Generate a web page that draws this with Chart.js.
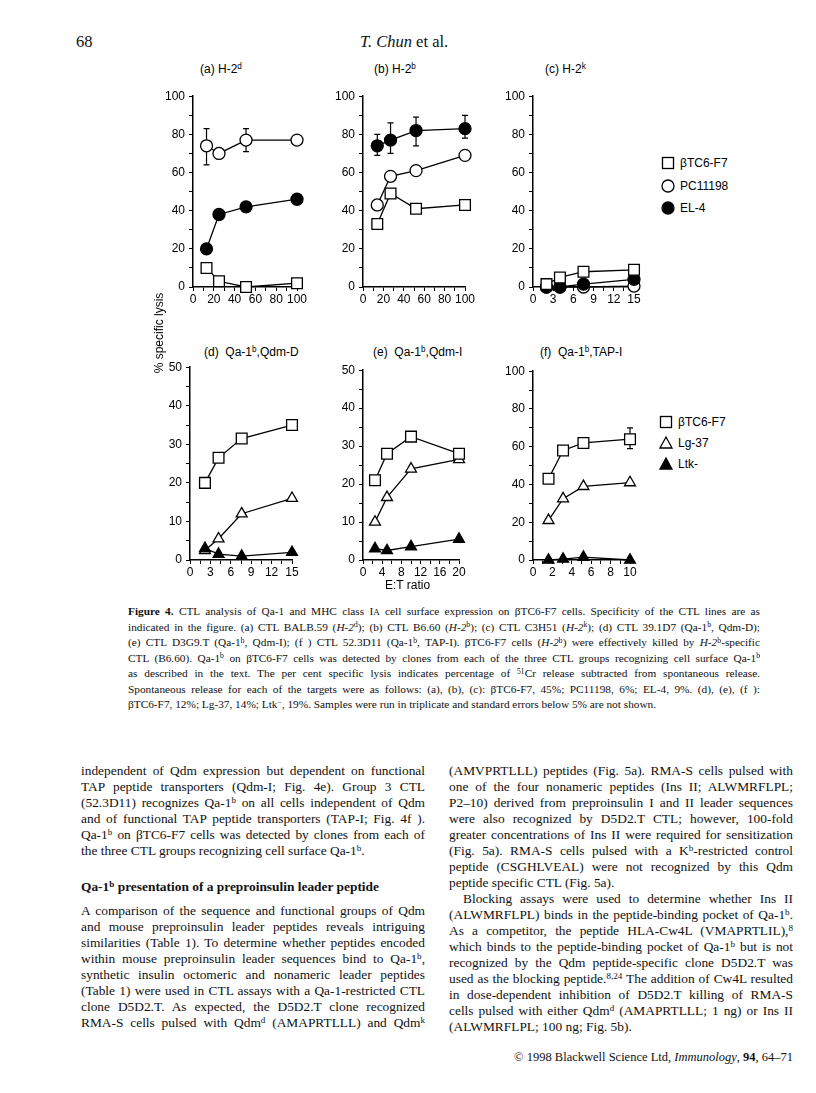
<!DOCTYPE html>
<html>
<head>
<meta charset="utf-8">
<script src="https://cdn.jsdelivr.net/npm/chart.js@4.4.0/dist/chart.umd.min.js"></script>
<style>
  body { margin: 0; background: #fff; }
  #page { position: relative; width: 816px; height: 1093px; overflow: hidden; background: #fff;
          font-family: "Liberation Serif", "Times New Roman", serif; color: #111; }
  canvas { position: absolute; }
  sup { font-size: 0.68em; vertical-align: 0; position: relative; top: -0.45em; line-height: 0; }
  .hdr { position: absolute; font-size: 16.5px; white-space: nowrap; }
  .ttl { position: absolute; font-family: "Liberation Sans", Arial, sans-serif; font-size: 12px; white-space: nowrap; color: #000; }
  .ylab { position: absolute; font-family: "Liberation Sans", Arial, sans-serif; font-size: 12px; white-space: nowrap;
          transform: rotate(-90deg); transform-origin: center; color: #000; }
  .lg { position: absolute; font-family: "Liberation Sans", Arial, sans-serif; font-size: 12px; white-space: nowrap; color: #000; }
  .lg svg { position: absolute; left: 0; top: 0; }
  .lg span { position: absolute; left: 20px; top: 0; line-height: 16px; }
  .blk { position: absolute; }
  .blk div { text-align: justify; text-align-last: justify; white-space: normal; overflow: hidden; }
  .blk div.end { text-align-last: left; }
  .cap { left: 128px; width: 632px; top: 604px; font-size: 11.3px; }
  .cap div { height: 15.5px; line-height: 15.5px; }
  .col { width: 344px; font-size: 13.4px; }
  .col div { height: 16px; line-height: 16px; }
  .ind { text-indent: 14px; }
  .foot { position: absolute; right: 23px; top: 1050px; font-size: 12.5px; white-space: nowrap; }
</style>
</head>
<body>
<div id="page">
  <div class="hdr" style="left:76px; top:32px;">68</div>
  <div class="hdr" style="left:360px; top:32px;"><i>T. Chun</i> et al.</div>

  <div class="ttl" style="left:200px; top:62px;">(a) H-2<sup>d</sup></div>
  <div class="ttl" style="left:374px; top:62px;">(b) H-2<sup>b</sup></div>
  <div class="ttl" style="left:545px; top:62px;">(c) H-2<sup>k</sup></div>
  <div class="ttl" style="left:204px; top:345px;">(d)&nbsp; Qa-1<sup>b</sup>,Qdm-D</div>
  <div class="ttl" style="left:373px; top:345px;">(e)&nbsp; Qa-1<sup>b</sup>,Qdm-I</div>
  <div class="ttl" style="left:540px; top:345px;">(f)&nbsp; Qa-1<sup>b</sup>,TAP-I</div>

  <canvas id="chartA" width="152" height="224" style="left:159px; top:85px;"></canvas>
  <canvas id="chartB" width="150" height="224" style="left:329px; top:85px;"></canvas>
  <canvas id="chartC" width="149" height="224" style="left:499px; top:85px;"></canvas>
  <canvas id="chartD" width="150" height="226" style="left:156px; top:356px;"></canvas>
  <canvas id="chartE" width="144" height="223" style="left:329px; top:359px;"></canvas>
  <canvas id="chartF" width="145" height="222" style="left:499px; top:360px;"></canvas>

  <div class="ylab" style="left:109px; top:326px; width:100px; text-align:center;">% specific lysis</div>
  <div class="ttl" style="left:385px; top:578px;">E:T ratio</div>

  <!-- legends -->
  <div class="lg" style="left:660px; top:155px;">
    <svg width="16" height="16"><rect x="2.5" y="2.5" width="11" height="11" fill="#fff" stroke="#000" stroke-width="1.3"/></svg>
    <span>&beta;TC6-F7</span></div>
  <div class="lg" style="left:660px; top:178px;">
    <svg width="16" height="16"><circle cx="8" cy="8" r="6" fill="#fff" stroke="#000" stroke-width="1.3"/></svg>
    <span>PC11198</span></div>
  <div class="lg" style="left:660px; top:200px;">
    <svg width="16" height="16"><circle cx="8" cy="8" r="6" fill="#000" stroke="#000" stroke-width="1.3"/></svg>
    <span>EL-4</span></div>

  <div class="lg" style="left:658px; top:414px;">
    <svg width="16" height="16"><rect x="2.5" y="2.5" width="11" height="11" fill="#fff" stroke="#000" stroke-width="1.3"/></svg>
    <span>&beta;TC6-F7</span></div>
  <div class="lg" style="left:658px; top:435px;">
    <svg width="16" height="16"><polygon points="8,2 14,13 2,13" fill="#fff" stroke="#000" stroke-width="1.3"/></svg>
    <span>Lg-37</span></div>
  <div class="lg" style="left:658px; top:456px;">
    <svg width="16" height="16"><polygon points="8,2 14,13 2,13" fill="#000" stroke="#000" stroke-width="1.3"/></svg>
    <span>Ltk-</span></div>

  <!-- caption -->
  <div class="blk cap">
    <div><b>Figure 4.</b> CTL analysis of Qa-1 and MHC class I<span style="font-size:0.8em">A</span> cell surface expression on &beta;TC6-F7 cells. Specificity of the CTL lines are as</div>
    <div>indicated in the figure. (a) CTL BALB.59 (<i>H-2</i><sup>d</sup>); (b) CTL B6.60 (<i>H-2</i><sup>b</sup>); (c) CTL C3H51 (<i>H-2</i><sup>k</sup>); (d) CTL 39.1D7 (Qa-1<sup>b</sup>, Qdm-D);</div>
    <div>(e) CTL D3G9.T (Qa-1<sup>b</sup>, Qdm-I); (f ) CTL 52.3D11 (Qa-1<sup>b</sup>, TAP-I). &beta;TC6-F7 cells (<i>H-2</i><sup>b</sup>) were effectively killed by <i>H-2</i><sup>b</sup>-specific</div>
    <div>CTL (B6.60). Qa-1<sup>b</sup> on &beta;TC6-F7 cells was detected by clones from each of the three CTL groups recognizing cell surface Qa-1<sup>b</sup></div>
    <div>as described in the text. The per cent specific lysis indicates percentage of <sup>51</sup>Cr release subtracted from spontaneous release.</div>
    <div>Spontaneous release for each of the targets were as follows: (a), (b), (c): &beta;TC6-F7, 45%; PC11198, 6%; EL-4, 9%. (d), (e), (f ):</div>
    <div class="end">&beta;TC6-F7, 12%; Lg-37, 14%; Ltk<sup>&minus;</sup>, 19%. Samples were run in triplicate and standard errors below 5% are not shown.</div>
  </div>

  <!-- left column -->
  <div class="blk col" style="left:81px; top:763px;">
    <div>independent of Qdm expression but dependent on functional</div>
    <div>TAP peptide transporters (Qdm-I; Fig. 4e). Group 3 CTL</div>
    <div>(52.3D11) recognizes Qa-1<sup>b</sup> on all cells independent of Qdm</div>
    <div>and of functional TAP peptide transporters (TAP-I; Fig. 4f ).</div>
    <div>Qa-1<sup>b</sup> on &beta;TC6-F7 cells was detected by clones from each of</div>
    <div class="end">the three CTL groups recognizing cell surface Qa-1<sup>b</sup>.</div>
  </div>
  <div class="blk col" style="left:81px; top:879px;">
    <div class="end"><b>Qa-1<sup>b</sup> presentation of a preproinsulin leader peptide</b></div>
  </div>
  <div class="blk col" style="left:81px; top:903px;">
    <div>A comparison of the sequence and functional groups of Qdm</div>
    <div>and mouse preproinsulin leader peptides reveals intriguing</div>
    <div>similarities (Table 1). To determine whether peptides encoded</div>
    <div>within mouse preproinsulin leader sequences bind to Qa-1<sup>b</sup>,</div>
    <div>synthetic insulin octomeric and nonameric leader peptides</div>
    <div>(Table 1) were used in CTL assays with a Qa-1-restricted CTL</div>
    <div>clone D5D2.T. As expected, the D5D2.T clone recognized</div>
    <div>RMA-S cells pulsed with Qdm<sup>d</sup> (AMAPRTLLL) and Qdm<sup>k</sup></div>
  </div>

  <!-- right column -->
  <div class="blk col" style="left:449px; top:763px;">
    <div>(AMVPRTLLL) peptides (Fig. 5a). RMA-S cells pulsed with</div>
    <div>one of the four nonameric peptides (Ins II; ALWMRFLPL;</div>
    <div>P2&ndash;10) derived from preproinsulin I and II leader sequences</div>
    <div>were also recognized by D5D2.T CTL; however, 100-fold</div>
    <div>greater concentrations of Ins II were required for sensitization</div>
    <div>(Fig. 5a). RMA-S cells pulsed with a K<sup>b</sup>-restricted control</div>
    <div>peptide (CSGHLVEAL) were not recognized by this Qdm</div>
    <div class="end">peptide specific CTL (Fig. 5a).</div>
    <div class="ind">Blocking assays were used to determine whether Ins II</div>
    <div>(ALWMRFLPL) binds in the peptide-binding pocket of Qa-1<sup>b</sup>.</div>
    <div>As a competitor, the peptide HLA-Cw4L (VMAPRTLIL),<sup>8</sup></div>
    <div>which binds to the peptide-binding pocket of Qa-1<sup>b</sup> but is not</div>
    <div>recognized by the Qdm peptide-specific clone D5D2.T was</div>
    <div>used as the blocking peptide.<sup>8,24</sup> The addition of Cw4L resulted</div>
    <div>in dose-dependent inhibition of D5D2.T killing of RMA-S</div>
    <div>cells pulsed with either Qdm<sup>d</sup> (AMAPRTLLL; 1 ng) or Ins II</div>
    <div class="end">(ALWMRFLPL; 100 ng; Fig. 5b).</div>
  </div>

  <div class="foot">&copy; 1998 Blackwell Science Ltd, <i>Immunology</i>, <b>94</b>, 64&ndash;71</div>
</div>

<script>
// E:T ratios (x)
const etA = [13, 25, 51, 100];
const etB = [14, 27, 52, 100];
const etC = [2, 4, 7.5, 15];
const etD = [2.2, 4.2, 7.6, 15];
const etE = [2.5, 5, 10, 20];
const etF = [1.6, 3.1, 5.2, 10];

// (a) H-2d
const aBTC = [10, 3, 0, 2];
const aPC = [74, 70, 77, 77];
const aPCLo = [64, null, 71, null];
const aPCHi = [83, null, 83, null];
const aEL = [20, 38, 42, 46];

// (b) H-2b
const bBTC = [33, 49, 41, 43];
const bPC = [43, 58, 61, 69];
const bEL = [74, 77, 82, 83];
const bELLo = [69, 70, 74, 78];
const bELHi = [80, 86, 89, 90];

// (c) H-2k
const cBTC = [1.5, 5, 8, 9];
const cPC = [0, 0, 0, 0.5];
const cEL = [0, 0, 1.5, 4];

// (d) Qa-1b, Qdm-D
const dBTC = [20, 26.5, 31.5, 35];
const dLg = [2.5, 5.5, 12, 16];
const dLtk = [3, 1.5, 1, 2];

// (e) Qa-1b, Qdm-I
const eBTC = [21, 28, 32.5, 28];
const eLg = [10, 16.5, 24, 26.5];
const eLtk = [3, 2.5, 3.5, 5.5];

// (f) Qa-1b, TAP-I
const fBTC = [43, 58, 62, 64];
const fBTCLo = [null, null, null, 59];
const fBTCHi = [null, null, null, 70];
const fLg = [21, 32.5, 39, 41];
const fLtk = [0, 0.5, 1.5, 0];

const tickFont = { family: "'Liberation Sans', Arial, sans-serif", size: 12 };

// error bars drawn behind the markers
const errorBars = {
  id: "errorBars",
  beforeDatasetsDraw(chart) {
    const ctx = chart.ctx;
    const xs = chart.scales.x;
    const ys = chart.scales.y;
    chart.data.datasets.forEach(function (ds) {
      if (!ds.errLo) return;
      ds.data.forEach(function (p, i) {
        if (ds.errLo[i] == null) return;
        const px = xs.getPixelForValue(p.x);
        const top = ys.getPixelForValue(ds.errHi[i]);
        const bot = ys.getPixelForValue(ds.errLo[i]);
        ctx.save();
        ctx.strokeStyle = "#000";
        ctx.lineWidth = 1.2;
        ctx.beginPath();
        ctx.moveTo(px, top);
        ctx.lineTo(px, bot);
        ctx.moveTo(px - 3, top);
        ctx.lineTo(px + 3, top);
        ctx.moveTo(px - 3, bot);
        ctx.lineTo(px + 3, bot);
        ctx.stroke();
        ctx.restore();
      });
    });
  },
};

function series(xs, ys, shape, filled, lo, hi) {
  let r = 6;
  if (shape == "rect") r = 7.6;
  if (shape == "triangle") r = 6.3;
  return {
    data: xs.map(function (x, i) { return { x: x, y: ys[i] }; }),
    showLine: true,
    clip: false,
    borderColor: "#000",
    borderWidth: 1.3,
    pointStyle: shape,
    pointRadius: r,
    pointBackgroundColor: filled ? "#000" : "#fff",
    pointBorderColor: "#000",
    pointBorderWidth: 1.3,
    errLo: lo,
    errHi: hi,
  };
}

function axis(max, step, every, isX) {
  return {
    type: "linear",
    min: 0,
    max: max,
    ticks: {
      stepSize: step,
      autoSkip: false,
      maxRotation: 0,
      color: "#000",
      font: tickFont,
      padding: isX ? 1 : 4,
      callback: function (v) {
        return Math.abs(v / every - Math.round(v / every)) < 1e-6 ? String(Math.round(v)) : "";
      },
    },
    grid: { drawOnChartArea: false, drawTicks: true, tickLength: 4, color: "#000", lineWidth: 1 },
    border: { display: true, color: "#000", width: 1.5 },
    afterFit: function (s) {
      if (isX) s.height = 22;
      else s.width = 34;
    },
  };
}

function panel(id, datasets, xMax, xStep, xEvery, yMax, yStep, yEvery) {
  new Chart(document.getElementById(id), {
    type: "scatter",
    data: { datasets: datasets },
    options: {
      responsive: false,
      animation: false,
      layout: { padding: { top: 10, right: 14, left: 0, bottom: 0 } },
      plugins: { legend: { display: false }, tooltip: { enabled: false } },
      scales: {
        x: axis(xMax, xStep, xEvery, true),
        y: axis(yMax, yStep, yEvery, false),
      },
    },
    plugins: [errorBars],
  });
}

// first dataset is drawn on top
panel("chartA", [
  series(etA, aBTC, "rect", false),
  series(etA, aPC, "circle", false, aPCLo, aPCHi),
  series(etA, aEL, "circle", true),
], 100, 10, 20, 100, 10, 20);

panel("chartB", [
  series(etB, bBTC, "rect", false),
  series(etB, bPC, "circle", false),
  series(etB, bEL, "circle", true, bELLo, bELHi),
], 100, 10, 20, 100, 10, 20);

panel("chartC", [
  series(etC, cBTC, "rect", false),
  series(etC, cEL, "circle", true),
  series(etC, cPC, "circle", false),
], 15, 1.5, 3, 100, 10, 20);

panel("chartD", [
  series(etD, dBTC, "rect", false),
  series(etD, dLtk, "triangle", true),
  series(etD, dLg, "triangle", false),
], 15, 1.5, 3, 50, 5, 10);

panel("chartE", [
  series(etE, eBTC, "rect", false),
  series(etE, eLg, "triangle", false),
  series(etE, eLtk, "triangle", true),
], 20, 2, 4, 50, 5, 10);

panel("chartF", [
  series(etF, fBTC, "rect", false, fBTCLo, fBTCHi),
  series(etF, fLg, "triangle", false),
  series(etF, fLtk, "triangle", true),
], 10, 1, 2, 100, 10, 20);
</script>
</body>
</html>
